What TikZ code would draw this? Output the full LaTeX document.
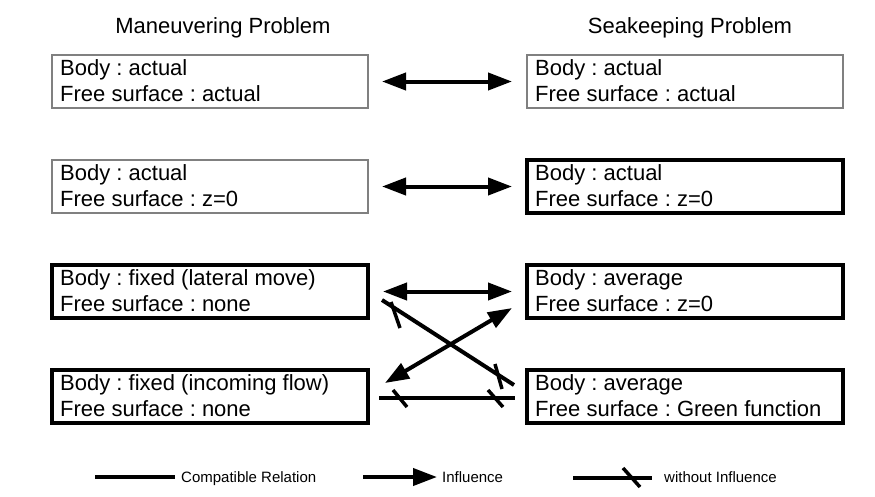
\documentclass[tikz,border=0pt]{standalone}
\usepackage{fontspec}
\setmainfont{Liberation Sans}
\usetikzlibrary{arrows.meta}
\frenchspacing
\begin{document}
\begin{tikzpicture}[x=1pt,y=-1pt,
  thinbox/.style={draw=black!50, line width=1.3pt, minimum width=316pt, minimum height=53pt, inner sep=0pt, outer sep=0pt, anchor=north west},
  thickbox/.style={draw=black, line width=4pt, minimum width=316pt, minimum height=53pt, inner sep=0pt, outer sep=0pt, anchor=north west},
  txt/.style={font=\fontsize{22}{26}\selectfont, inner sep=0pt, anchor=base west},
  ttl/.style={font=\fontsize{22}{26}\selectfont, inner sep=0pt, anchor=base},
  legtxt/.style={font=\fontsize{15}{18}\selectfont, inner sep=0pt, anchor=base west},
  rel/.style={line width=4pt},
  infl/.style={line width=4pt, -{Triangle[length=24pt,width=17pt]}},
  biinfl/.style={line width=4pt, {Triangle[length=24pt,width=17pt]}-{Triangle[length=24pt,width=17pt]}},
  tickmark/.style={line width=3.5pt}
]
\useasboundingbox (0,0) rectangle (875,496);

% titles
\node[ttl] (tl) at (223,33) {Maneuvering Problem};
\node[ttl] (tr) at (690,33) {Seakeeping Problem};

% left boxes
\node[thinbox]  (L1) at (52,55) {};
\node[thinbox]  (L2) at (52,160) {};
\node[thickbox] (L3) at (52,265) {};
\node[thickbox] (L4) at (52,370) {};
% right boxes
\node[thinbox]  (R1) at (527,55) {};
\node[thickbox] (R2) at (527,160) {};
\node[thickbox] (R3) at (527,265) {};
\node[thickbox] (R4) at (527,370) {};

% texts
\node[txt] (L1a) at (60,75.5) {Body : actual};
\node[txt] (L1b) at (60,101.5) {Free surface : actual};
\node[txt] (L2a) at (60,180.5) {Body : actual};
\node[txt] (L2b) at (60,206.5) {Free surface : z=0};
\node[txt] (L3a) at (60,285.5) {Body : fixed (lateral move)};
\node[txt] (L3b) at (60,311.5) {Free surface : none};
\node[txt] (L4a) at (60,390.5) {Body : fixed (incoming flow)};
\node[txt] (L4b) at (60,416.5) {Free surface : none};

\node[txt] (R1a) at (535,75.5) {Body : actual};
\node[txt] (R1b) at (535,101.5) {Free surface : actual};
\node[txt] (R2a) at (535,180.5) {Body : actual};
\node[txt] (R2b) at (535,206.5) {Free surface : z=0};
\node[txt] (R3a) at (535,285.5) {Body : average};
\node[txt] (R3b) at (535,311.5) {Free surface : z=0};
\node[txt] (R4a) at (535,390.5) {Body : average};
\node[txt] (R4b) at (535,416.5) {Free surface : Green function};

% horizontal double arrows
\draw[biinfl, shorten <=14pt, shorten >=15pt] (L1.east) -- (R1.west);
\draw[biinfl, shorten <=14pt, shorten >=15pt] (L2.east) -- (R2.west);
\draw[biinfl, shorten <=15pt, shorten >=15pt] (L3.east) -- (R3.west);

% diagonal double arrow
\coordinate (d1a) at (385,383);
\coordinate (d1b) at (512,308);
\draw[biinfl] (d1a) -- (d1b);

% diagonal without influence
\coordinate (d2a) at (382,300);
\coordinate (d2b) at (514,385);
\draw[rel] (d2a) -- (d2b);
\coordinate (k1a) at (391,302); \coordinate (k1b) at (400,328);
\coordinate (k2a) at (495,364); \coordinate (k2b) at (502,389);
\draw[tickmark] (k1a) -- (k1b);
\draw[tickmark] (k2a) -- (k2b);

% bottom horizontal without influence
\draw[rel, shorten <=11pt, shorten >=12pt] (L4.east) ++(0,1) coordinate (h1a) -- (R4.west |- h1a) coordinate (h1b);
\coordinate (k3a) at (393,390); \coordinate (k3b) at (407,407);
\coordinate (k4a) at (488,390); \coordinate (k4b) at (503,407);
\draw[tickmark] (k3a) -- (k3b);
\draw[tickmark] (k4a) -- (k4b);

% legend
\coordinate (g1a) at (95,477); \coordinate (g1b) at (175,477);
\draw[rel] (g1a) -- (g1b);
\node[legtxt] (g1t) at (181,482.5) {Compatible Relation};

\coordinate (g2a) at (363,477); \coordinate (g2b) at (437,477);
\draw[infl] (g2a) -- (g2b);
\node[legtxt] (g2t) at (442,482.5) {Influence};

\coordinate (g3a) at (573,478); \coordinate (g3b) at (652,478);
\draw[rel] (g3a) -- (g3b);
\coordinate (k5a) at (623,468); \coordinate (k5b) at (640,487);
\draw[tickmark] (k5a) -- (k5b);
\node[legtxt] (g3t) at (664,482.5) {without Influence};
\end{tikzpicture}
\end{document}
